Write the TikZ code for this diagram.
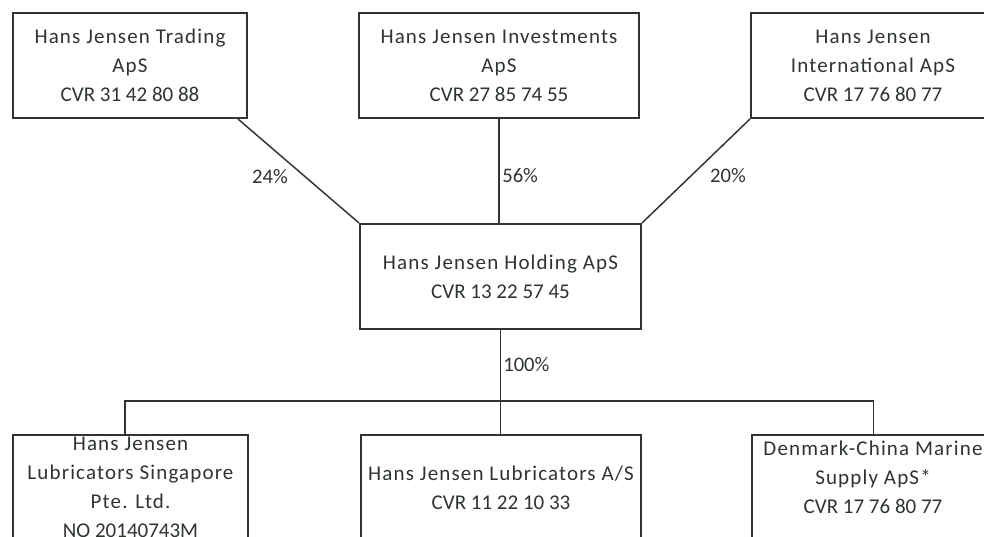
\documentclass[tikz,border=0pt]{standalone}
\usepackage{fontspec}
\setmainfont{Carlito}
\newfontfamily\namefont[LetterSpace=5.5]{Carlito}
\usetikzlibrary{calc}
\definecolor{ink}{HTML}{2E352F}
\definecolor{edge}{HTML}{333333}
\newcommand{\orgname}[1]{{\namefont #1}}
\begin{document}
\begin{tikzpicture}[x=0.75pt,y=-0.75pt,
  box/.style={draw=edge, line width=1.5pt, rectangle, minimum height=78.75pt,
    inner sep=0pt, align=center, text=ink,
    font=\fontsize{15.75pt}{21.75pt}\selectfont},
  txt/.style={align=center, text=ink, inner sep=0pt,
    font=\fontsize{15.75pt}{21.75pt}\selectfont},
  pct/.style={text=ink, inner sep=0pt, font=\fontsize{15.5pt}{18pt}\selectfont},
  link/.style={draw=edge, line width=1.1pt}]
\clip (0,0) rectangle (984,536);
\useasboundingbox (0,0) rectangle (984,536);
\fill[white] (0,0) rectangle (984,536);

% top row
\node[box, minimum width=175.5pt] (tl) at (130,65.5)
  {\orgname{Hans Jensen Trading}\\\orgname{ApS}\\CVR 31 42 80 88};
\node[box, minimum width=210pt] (tm) at (499,65.5)
  {\orgname{Hans Jensen Investments}\\\orgname{ApS}\\CVR 27 85 74 55};
\node[box, minimum width=183pt] (tr) at (873,65.5)
  {\orgname{Hans Jensen}\\\orgname{International ApS}\\CVR 17 76 80 77};

% holding
\node[box, minimum width=210.75pt] (hold) at (500.5,276.5)
  {\orgname{Hans Jensen Holding ApS}\\CVR 13 22 57 45};

% bottom row
\node[box, minimum width=176.25pt] (bl) at (130.5,487.5)
  {\orgname{Hans Jensen}\\\orgname{Lubricators Singapore}\\\orgname{Pte. Ltd.}\\NO 20140743M};
\node[box, minimum width=210pt] (bm) at (501,487.5)
  {\orgname{Hans Jensen Lubricators A/S}\\CVR 11 22 10 33};
\node[box, minimum width=182.25pt] (br) at (873.5,487.5) {};
\node[txt] (brt) at (873,477)
  {\orgname{Denmark-China Marine}\\\orgname{Supply ApS*}\\CVR 17 76 80 77};

% ownership links
\draw[link] ([xshift=-7.5pt]tl.south east) -- (hold.north west);
\draw[link] (tm.south) -- (tm.south |- hold.north);
\draw[link] (tr.south west) -- (hold.north east);

\node[pct] (p24) at (270,177) {24\%};
\node[pct, anchor=west] (p56) at (502,176) {56\%};
\node[pct] (p20) at (728,176) {20\%};

% subsidiaries
\coordinate (bus) at (497,401);
\draw[link] (hold.south) -- (hold.south |- bm.north);
\draw[link] ([xshift=-4pt]bl.north) |- (br.north |- bus) -- (br.north);
\node[pct, anchor=west] (p100) at (503,365) {100\%};
\end{tikzpicture}
\end{document}
